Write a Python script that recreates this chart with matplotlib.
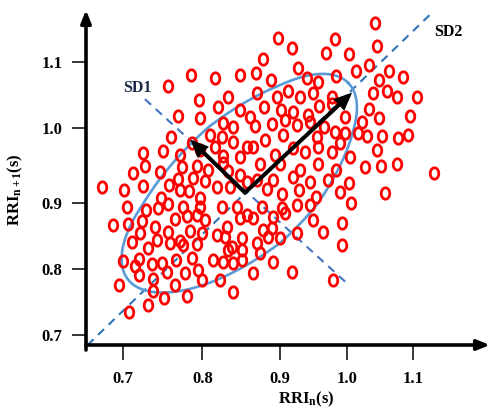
import numpy as np
import matplotlib
matplotlib.use("Agg")
import matplotlib.pyplot as plt
from matplotlib.path import Path

plt.rcParams['font.family'] = 'Liberation Serif'
plt.rcParams['font.weight'] = 'bold'
plt.rcParams['mathtext.fontset'] = 'custom'
plt.rcParams['mathtext.rm'] = 'Liberation Serif:bold'
plt.rcParams['mathtext.it'] = 'Liberation Serif:bold'
plt.rcParams['mathtext.default'] = 'rm'

# RR interval n (s)
rri_n = [
    1.042, 0.897, 0.918, 0.983, 1.045, 0.878, 0.969, 1.003, 1.033, 0.927,
    0.786, 0.816, 0.849, 0.869, 0.888, 0.941, 0.957, 0.984, 1.014, 1.063,
    1.084, 1.048, 0.757, 0.796, 0.833, 0.870, 0.896, 0.912, 0.930, 0.950,
    0.978, 1.040, 1.060, 1.075, 1.105,
    0.820, 0.849, 0.879, 0.861, 0.902, 0.920, 0.942, 0.959, 0.978, 0.998,
    1.033, 1.048, 1.095, 1.023, 0.769, 0.797, 0.827, 0.840, 0.868, 0.890,
    0.908, 0.926, 0.945, 0.966,
    0.761, 0.787, 0.810, 0.825, 0.840, 0.858, 0.881, 0.905, 0.956, 0.983,
    0.998, 1.017, 1.030, 1.053, 1.077, 1.092, 0.990, 0.978, 1.005, 1.045,
    0.726, 0.751, 0.772, 0.797, 0.816, 0.827, 0.849, 0.865, 0.894, 0.920,
    0.938, 0.957,
    0.728, 0.713, 0.747, 0.774, 0.793, 0.807, 0.827, 0.833, 0.849, 0.874,
    0.900, 0.930, 0.957, 0.984, 1.027, 1.051, 1.075, 1.131, 1.003, 0.990,
    1.057, 1.006, 0.993, 0.993, 0.980, 0.674, 0.702, 0.726, 0.758, 0.769,
    0.788, 0.803, 0.819, 0.836, 0.858, 0.870, 0.891, 0.920, 0.945, 0.972,
    0.883, 0.903, 0.929, 0.954,
    0.772, 0.783, 0.797, 0.748, 0.705, 0.729, 0.744, 0.757, 0.776, 0.766,
    0.781, 0.793, 0.803, 0.688, 0.707, 0.724, 0.741, 0.722, 0.757, 0.785,
    0.800, 0.712, 0.732, 0.743, 0.759, 0.772, 0.776, 0.793, 0.700, 0.720,
    0.715, 0.737, 0.749, 0.767, 0.787, 0.795, 0.720, 0.738, 0.756, 0.778,
    0.800, 0.695, 0.738, 0.766, 0.752, 0.781, 0.732, 0.708, 0.797,
    0.926, 0.945, 0.825, 0.845, 0.877, 0.903, 0.908, 0.858, 0.849, 0.865,
    0.891, 0.950, 0.965, 0.832, 0.819, 0.829, 0.851, 0.878, 0.890, 0.885,
    0.900, 0.926, 0.870, 0.838, 0.833, 0.851, 0.874, 0.814, 0.827, 0.840,
    0.851, 0.891, 0.865, 0.918, 0.823, 0.840,
]

# RR interval n+1 (s)
rri_n1 = [
    1.159, 1.136, 1.121, 1.134, 1.124, 1.104, 1.113, 1.112, 1.095, 1.090,
    1.080, 1.075, 1.080, 1.083, 1.072, 1.075, 1.069, 1.078, 1.086, 1.086,
    1.077, 1.072, 1.063, 1.042, 1.047, 1.053, 1.047, 1.056, 1.047, 1.053,
    1.047, 1.053, 1.056, 1.047, 1.047,
    1.031, 1.027, 1.031, 1.016, 1.027, 1.024, 1.019, 1.033, 1.036, 1.016,
    1.028, 1.015, 1.018, 1.009, 1.018, 1.015, 1.007, 1.001, 1.003, 1.006,
    1.012, 1.004, 1.009, 1.001,
    0.988, 0.980, 0.990, 0.988, 0.981, 0.974, 0.984, 0.990, 0.988, 0.994,
    0.993, 0.993, 0.989, 0.989, 0.986, 0.990, 0.980, 0.968, 0.961, 0.971,
    0.967, 0.969, 0.964, 0.971, 0.974, 0.963, 0.961, 0.974, 0.964, 0.973,
    0.968, 0.974,
    0.949, 0.940, 0.941, 0.948, 0.949, 0.944, 0.953, 0.943, 0.937, 0.952,
    0.952, 0.944, 0.952, 0.944, 0.948, 0.949, 0.952, 0.940, 0.927, 0.915,
    0.914, 0.900, 0.870, 0.837, 0.784, 0.922, 0.918, 0.923, 0.924, 0.932,
    0.933, 0.930, 0.922, 0.922, 0.928, 0.931, 0.931, 0.935, 0.928, 0.931,
    0.919, 0.912, 0.918, 0.908,
    0.918, 0.916, 0.907, 0.907, 0.894, 0.890, 0.893, 0.899, 0.894, 0.876,
    0.881, 0.882, 0.875, 0.867, 0.869, 0.873, 0.864, 0.855, 0.857, 0.858,
    0.855, 0.841, 0.832, 0.844, 0.840, 0.843, 0.837, 0.838, 0.813, 0.816,
    0.805, 0.808, 0.810, 0.814, 0.817, 0.799, 0.791, 0.785, 0.796, 0.794,
    0.784, 0.776, 0.767, 0.776, 0.756, 0.759, 0.746, 0.735, 0.894,
    0.897, 0.897, 0.894, 0.894, 0.894, 0.893, 0.885, 0.882, 0.878, 0.878,
    0.879, 0.875, 0.857, 0.864, 0.852, 0.849, 0.847, 0.860, 0.863, 0.849,
    0.847, 0.855, 0.840, 0.834, 0.829, 0.829, 0.825, 0.814, 0.811, 0.810,
    0.814, 0.811, 0.794, 0.796, 0.784, 0.765,
]

ticks = [0.7, 0.8, 0.9, 1.0, 1.1]
tick_labels = ['0.7', '0.8', '0.9', '1.0', '1.1']

# SD ellipse and arrows (data units)
ell_center = (0.857, 0.923)
ell_semi = (0.205, 0.090)
sd_origin = (0.855, 0.914)
sd1_tip = (0.785, 0.984)
sd2_tip = (1.008, 1.053)
sd1_line = ([0.728, 0.998], [1.043, 0.781])
sd2_line = ([0.656, 1.125], [0.685, 1.171])

# the source figure was hand drawn, tick spacing is not even -> piecewise axis
x_anchor = [0.0, 0.7, 0.8, 0.9, 1.0, 1.1, 2.0]
x_pos = [-434.5, 122.7, 202.3, 280.0, 346.7, 413.3, 1012.7]
y_anchor = [0.0, 0.7, 0.8, 0.9, 1.0, 1.1, 2.0]
y_pos = [-794.9, -335.0, -269.3, -203.3, -127.7, -61.7, 532.3]

fig = plt.figure(figsize=(4.92, 4.09), dpi=100)
ax = fig.add_axes([86 / 492, 64 / 409, 404 / 492, 335 / 409])
ax.set_xscale('function', functions=(lambda v: np.interp(v, x_anchor, x_pos),
                                     lambda p: np.interp(p, x_pos, x_anchor)))
ax.set_yscale('function', functions=(lambda v: np.interp(v, y_anchor, y_pos),
                                     lambda p: np.interp(p, y_pos, y_anchor)))
ax.set_xlim(0.654, 1.215)
ax.set_ylim(0.685, 1.178)

blue_dash = '#2e75b6'
ax.plot(*sd2_line, color=blue_dash, lw=1.5, dashes=(4, 3), zorder=2)
ax.plot(*sd1_line, color='#4472c4', lw=1.5, dashes=(4, 3), zorder=2)

t = np.linspace(0, 2 * np.pi, 300)
c45 = np.cos(np.pi / 4)
ex = ell_center[0] + ell_semi[0] * np.cos(t) * c45 - ell_semi[1] * np.sin(t) * c45
ey = ell_center[1] + ell_semi[0] * np.cos(t) * c45 + ell_semi[1] * np.sin(t) * c45
ax.plot(ex, ey, color='#5b9bd5', lw=1.9, zorder=2)

th = np.linspace(0, 2 * np.pi, 60)
oval = Path(np.column_stack([0.75 * np.cos(th), np.sin(th)]), closed=True)
ax.plot(rri_n, rri_n1, linestyle='none', marker=oval, ms=8.2,
        mfc='none', mec='#ff0000', mew=2.0, zorder=3)

for tip in (sd1_tip, sd2_tip):
    ax.annotate('', xy=tip, xytext=sd_origin,
                arrowprops=dict(arrowstyle='-|>,head_length=0.8,head_width=0.35',
                                mutation_scale=10, lw=2.9, color='black',
                                shrinkA=0, shrinkB=0, joinstyle='miter'),
                zorder=4)

ax.text(0.718, 1.060, 'SD1', ha='center', va='center', fontsize=11.5,
        color='#1c2a48', fontweight='bold')
ax.text(1.153, 1.145, 'SD2', ha='center', va='center', fontsize=11.5,
        color='black', fontweight='bold')

# axes drawn as arrows
for a, b in (((0, -0.015), (0, 1)), ((0, 0), (1, 0))):
    ax.annotate('', xy=b, xycoords='axes fraction', xytext=a,
                textcoords='axes fraction', annotation_clip=False,
                arrowprops=dict(arrowstyle='-|>,head_length=0.75,head_width=0.3',
                                mutation_scale=10, lw=2.6, color='black',
                                shrinkA=0, shrinkB=0))
for s in ax.spines.values():
    s.set_visible(False)

ax.set_xticks(ticks)
ax.set_xticklabels(tick_labels)
ax.set_yticks(ticks)
ax.set_yticklabels(tick_labels)
ax.minorticks_off()
ax.tick_params(axis='x', direction='out', length=11, width=1.1, pad=8, labelsize=12)
ax.tick_params(axis='y', direction='out', length=10, width=1.1, pad=7, labelsize=12)

ax.set_xlabel('RRI$_{n}$(s)', fontsize=12, fontweight='bold')
ax.set_ylabel('RRI$_{n+1}$(s)', fontsize=12, fontweight='bold')
ax.xaxis.set_label_coords(0.545, -0.135)
ax.yaxis.set_label_coords(-0.15, 0.465)

fig.savefig('out.png', dpi=100)
